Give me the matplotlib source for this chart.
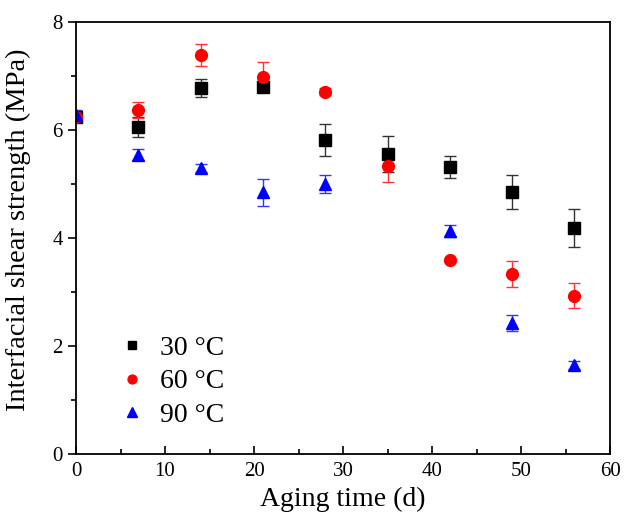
import numpy as np
import matplotlib
matplotlib.use("Agg")
import matplotlib.pyplot as plt
from matplotlib.ticker import MultipleLocator

plt.rcParams["font.family"] = ["Liberation Serif", "DejaVu Serif"]

# Aging time (days)
days = [0, 7, 14, 21, 28, 35, 42, 49, 56]

# Interfacial shear strength (MPa) and error bars
ifss_30 = [6.25, 6.06, 6.78, 6.80, 5.82, 5.56, 5.31, 4.85, 4.18]
err_30 = [0.08, 0.18, 0.17, 0.05, 0.30, 0.33, 0.20, 0.31, 0.35]

ifss_60 = [6.25, 6.37, 7.39, 6.98, 6.71, 5.33, 3.59, 3.34, 2.93]
err_60 = [0.08, 0.15, 0.20, 0.28, 0.07, 0.30, 0.03, 0.24, 0.23]

ifss_90 = [6.27, 5.54, 5.30, 4.85, 5.00, np.nan, 4.13, 2.43, 1.65]
err_90 = [0.10, 0.10, 0.07, 0.25, 0.17, np.nan, 0.12, 0.15, 0.08]

labels = ["30 \u00b0C", "60 \u00b0C", "90 \u00b0C"]

fig = plt.figure(figsize=(6.24, 5.32), dpi=100)
ax = fig.add_axes([0.1218, 0.1466, 0.8558, 0.812])

c30 = ax.errorbar(days, ifss_30, yerr=err_30, fmt="s", color="black", ecolor="#333333",
                  markersize=8, capsize=4, elinewidth=1, capthick=1)
c60 = ax.errorbar(days, ifss_60, yerr=err_60, fmt="o", color="red", ecolor="#ff3333",
                  markersize=8.5, capsize=4, elinewidth=1, capthick=1)
c90 = ax.errorbar(days, ifss_90, yerr=err_90, fmt="^", color="blue", ecolor="#3333ff",
                  markersize=9, capsize=4, elinewidth=1, capthick=1)

ax.set_xlim(0, 60)
ax.set_ylim(0, 8)
ax.xaxis.set_major_locator(MultipleLocator(10))
ax.xaxis.set_minor_locator(MultipleLocator(5))
ax.yaxis.set_major_locator(MultipleLocator(2))
ax.yaxis.set_minor_locator(MultipleLocator(1))

ax.tick_params(axis="x", which="major", direction="in", length=6, width=1.2, labelsize=15, pad=6)
ax.tick_params(axis="x", which="minor", direction="in", length=3.5, width=1.2)
ax.tick_params(axis="y", which="major", direction="out", length=6, width=1.2, labelsize=15)
ax.tick_params(axis="y", which="minor", direction="out", length=3.5, width=1.2)

for s in ax.spines.values():
    s.set_linewidth(1.3)

ax.set_xlabel("Aging time (d)", fontsize=20, labelpad=4)
ax.set_ylabel("Interfacial shear strength (MPa)", fontsize=20.5)
ax.yaxis.set_label_coords(-0.085, 0.52)

# legend shows markers only, no error bars
ax.legend([c30[0], c60[0], c90[0]], labels, loc="upper left",
          bbox_to_anchor=(0.079, 0.275), frameon=False, fontsize=20,
          handlelength=1, handletextpad=0.5, labelspacing=0.3,
          borderpad=0, borderaxespad=0, markerscale=0.75)

fig.savefig("out.png", dpi=100)
